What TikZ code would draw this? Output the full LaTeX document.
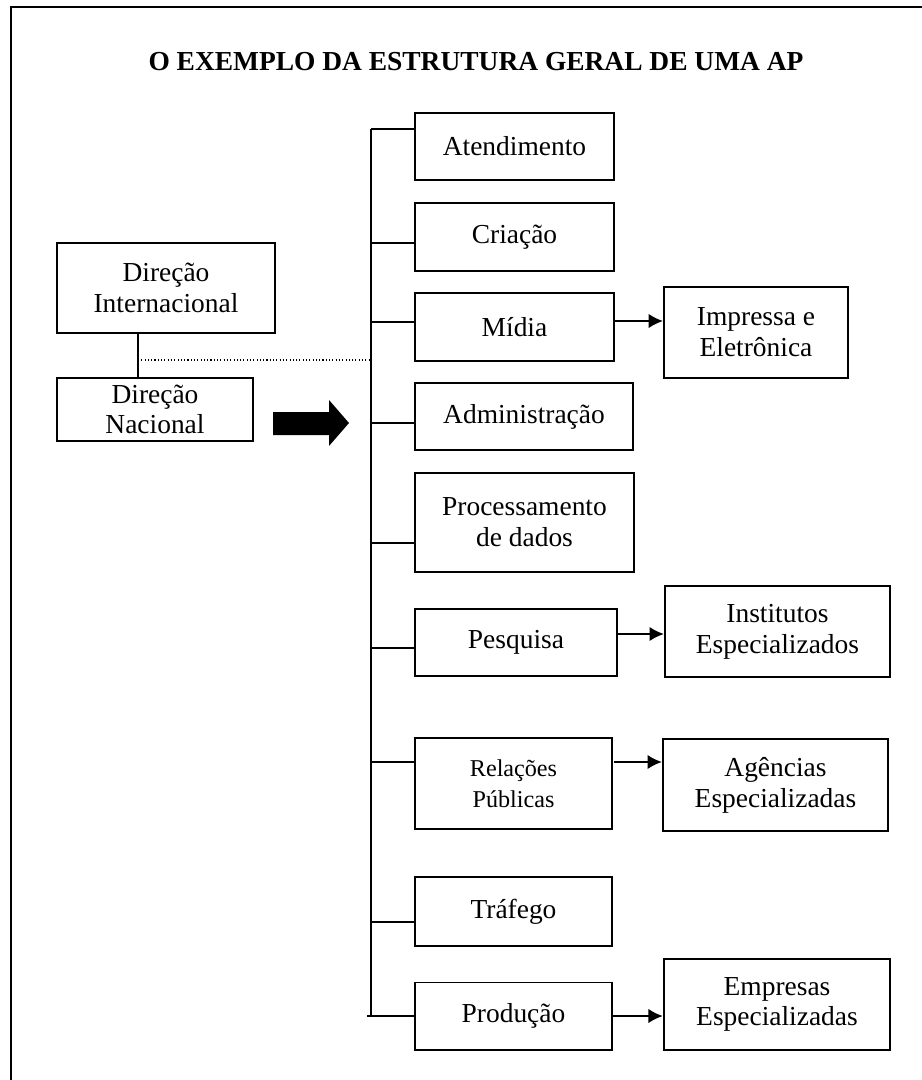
\documentclass[tikz,border=0pt]{standalone}
\usepackage{fontspec}
\setmainfont{Liberation Serif}
\usetikzlibrary{arrows.meta}
\tikzstyle{unit} = [rectangle, minimum width=3.18cm, minimum height=1.08cm, text centered, align=center, draw=black, line width=0.7pt, inner sep=2pt, font=\fontsize{12.5}{14}\selectfont]
\tikzstyle{ext} = [rectangle, minimum width=3.6cm, minimum height=1.46cm, text centered, align=center, draw=black, line width=1.1pt, inner sep=2pt, font=\fontsize{12.5}{14}\selectfont]
\tikzstyle{line} = [line width=0.7pt]
\tikzstyle{arrow} = [line width=0.7pt,-{Latex[length=6.5pt,width=6.5pt]}]

\begin{document}
\begin{tikzpicture}[x=0.016cm, y=-0.016cm]
\useasboundingbox (0,0) rectangle (922,1080);
\draw [line width=1pt] (922,7) -- (11,7) -- (11,1080);

\node (title) at (476,62) [font=\bfseries\fontsize{12.5}{14}\selectfont] {O EXEMPLO DA ESTRUTURA GERAL DE UMA AP};

\node (dirint) at (166,288) [unit, minimum width=3.49cm, minimum height=1.44cm] {Direção\\Internacional};
\node (dirnac) at (155,409.5) [unit, minimum width=3.14cm, minimum height=1.01cm] {Direção\\Nacional};

\node (atend) at (514.5,146.5) [unit] {Atendimento};
\node (criacao) at (514.5,237) [unit] {Criação};
\node (midia) at (514.5,327) [unit] {Mídia};
\node (admin) at (524,416.5) [unit, minimum width=3.49cm] {Administração};
\node (proc) at (524.5,522.5) [unit, minimum width=3.5cm, minimum height=1.58cm] {Processamento\\de dados};
\node (pesq) at (516,642.5) [unit, minimum width=3.23cm] {Pesquisa};
\node (relac) at (513.5,783.5) [unit, minimum width=3.15cm, minimum height=1.46cm, font=\fontsize{11}{14}\selectfont] {Relações\\Públicas};
\node (trafego) at (513.5,911.5) [unit, minimum width=3.15cm, minimum height=1.1cm] {Tráfego};
\node (producao) at (513.5,1016) [unit, minimum width=3.15cm] {Produção};

\node (impressa) at (756,332.5) [ext, minimum width=2.94cm] {Impressa e\\Eletrônica};
\node (institutos) at (777.5,631.5) [ext] {Institutos\\Especializados};
\node (agencias) at (775.5,785) [ext, minimum height=1.47cm] {Agências\\Especializadas};
\node (empresas) at (777,1004.5) [ext, minimum width=3.62cm] {Empresas\\Especializadas};

\coordinate (top) at (371,129);
\coordinate (bot) at (371,1016);
\coordinate (jcri) at (371,243);
\coordinate (jmid) at (371,322);
\coordinate (jadm) at (371,423);
\coordinate (jproc) at (371,543);
\coordinate (jpesq) at (371,648);
\coordinate (jrel) at (371,762);
\coordinate (jtraf) at (371,922);
\coordinate (jprod) at (367,1016);

\draw [line] (top) -- (bot);
\draw [line] (top) -- (top -| atend.west);
\draw [line] (jcri) -- (jcri -| criacao.west);
\draw [line] (jmid) -- (jmid -| midia.west);
\draw [line] (jadm) -- (jadm -| admin.west);
\draw [line] (jproc) -- (jproc -| proc.west);
\draw [line] (jpesq) -- (jpesq -| pesq.west);
\draw [line] (jrel) -- (jrel -| relac.west);
\draw [line] (jtraf) -- (jtraf -| trafego.west);
\draw [line] (jprod) -- (producao.west);

\coordinate (link) at (138,360);
\draw [line] (link |- dirint.south) -- (link |- dirnac.north);
\draw [densely dotted, line width=0.5pt] (link) -- (link -| top);

\fill (273,412) -- (329,412) -- (329,400) -- (349,423) -- (329,446) -- (329,435) -- (273,435) -- cycle;

\coordinate (amid) at (614,321);
\coordinate (apesq) at (617,634);
\coordinate (arel) at (614,762);
\draw [arrow] (amid) -- (amid -| impressa.west);
\draw [arrow] (apesq) -- (apesq -| institutos.west);
\draw [arrow] (arel) -- (arel -| agencias.west);
\draw [arrow] (producao.east) -- (producao.east -| empresas.west);



\end{tikzpicture}
\end{document}
